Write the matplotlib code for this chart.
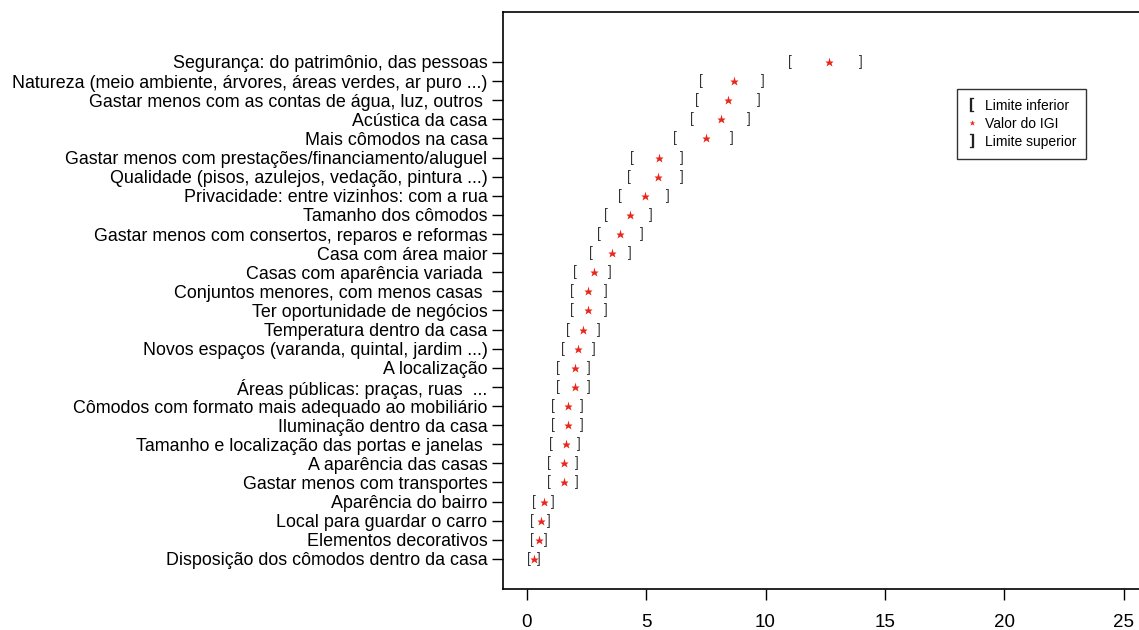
import matplotlib
matplotlib.use("Agg")
import matplotlib.pyplot as plt
from matplotlib.lines import Line2D

plt.rcParams["font.family"] = ["Liberation Sans", "DejaVu Sans"]

# ---------------------------------------------------------
# Data (top row first)
# ---------------------------------------------------------
categorias = [
    "Segurança: do patrimônio, das pessoas",
    "Natureza (meio ambiente, árvores, áreas verdes, ar puro ...)",
    "Gastar menos com as contas de água, luz, outros ",
    "Acústica da casa",
    "Mais cômodos na casa",
    "Gastar menos com prestações/financiamento/aluguel",
    "Qualidade (pisos, azulejos, vedação, pintura ...)",
    "Privacidade: entre vizinhos: com a rua",
    "Tamanho dos cômodos",
    "Gastar menos com consertos, reparos e reformas",
    "Casa com área maior",
    "Casas com aparência variada ",
    "Conjuntos menores, com menos casas ",
    "Ter oportunidade de negócios",
    "Temperatura dentro da casa",
    "Novos espaços (varanda, quintal, jardim ...)",
    "A localização",
    "Áreas públicas: praças, ruas  ...",
    "Cômodos com formato mais adequado ao mobiliário",
    "Iluminação dentro da casa",
    "Tamanho e localização das portas e janelas ",
    "A aparência das casas",
    "Gastar menos com transportes",
    "Aparência do bairro",
    "Local para guardar o carro",
    "Elementos decorativos",
    "Disposição dos cômodos dentro da casa",
]

limite_inf = [11.02, 7.31, 7.11, 6.92, 6.19, 4.41, 4.29, 3.90, 3.32, 3.01,
              2.70, 2.02, 1.90, 1.90, 1.72, 1.51, 1.32, 1.32, 1.11, 1.11,
              1.02, 0.92, 0.92, 0.31, 0.21, 0.21, 0.11]
valor_igi = [12.66, 8.67, 8.45, 8.14, 7.49, 5.56, 5.49, 4.96, 4.31, 3.93,
             3.57, 2.82, 2.59, 2.59, 2.38, 2.16, 2.02, 2.02, 1.72, 1.72,
             1.63, 1.56, 1.56, 0.74, 0.60, 0.53, 0.31]
limite_sup = [13.99, 9.90, 9.71, 9.30, 8.60, 6.51, 6.51, 5.91, 5.21, 4.81,
              4.31, 3.50, 3.32, 3.32, 3.01, 2.82, 2.62, 2.62, 2.30, 2.30,
              2.20, 2.12, 2.12, 1.09, 0.92, 0.81, 0.53]

x_ticks = [0, 5, 10, 15, 20, 25]

# ---------------------------------------------------------
# Plot
# ---------------------------------------------------------
W, H = 1139, 630
fig = plt.figure(figsize=(W / 100, H / 100), dpi=100)
ax = fig.add_axes([502.7 / W, 1 - 589.3 / H, 657 / W, (589.3 - 12.3) / H])

n = len(categorias)
ys = list(range(n, 0, -1))
bracket_color = "#333333"

for y, lo, v, hi in zip(ys, limite_inf, valor_igi, limite_sup):
    ax.text(lo, y, "[", ha="center", va="center", fontsize=10, color=bracket_color)
    ax.text(hi, y, "]", ha="center", va="center", fontsize=10, color=bracket_color)
ax.plot(valor_igi, ys, ls="none", marker="*", ms=6.5, color="#e8261c", mec="none")

ax.set_xlim(-1, 26.5)
ax.set_ylim(-0.59, n + 2.6)

ax.set_yticks(ys)
ax.set_yticklabels(categorias, fontsize=12.9)
ax.set_xticks(x_ticks)
ax.set_xticklabels([str(t) for t in x_ticks], fontsize=13.5)
ax.tick_params(axis="y", length=8, width=1, pad=3)
ax.tick_params(axis="x", length=8, width=1, pad=10)

for side in ["left", "top", "bottom"]:
    ax.spines[side].set_linewidth(1.2)
ax.spines["right"].set_visible(False)

handles = [
    Line2D([], [], ls="none", marker="$[$", ms=10, color="#222222", mew=0.2),
    Line2D([], [], ls="none", marker="*", ms=4, color="#e8261c", mec="none"),
    Line2D([], [], ls="none", marker="$]$", ms=10, color="#222222", mew=0.2),
]
leg = fig.legend(handles, ["Limite inferior", "Valor do IGI", "Limite superior"],
                 loc="upper left", bbox_to_anchor=(957 / W, 1 - 89 / H),
                 borderaxespad=0, fontsize=10, frameon=True, fancybox=False,
                 handlelength=0.8, handletextpad=0.5, labelspacing=0.3,
                 borderpad=0.7)
leg.get_frame().set_edgecolor("black")
leg.get_frame().set_linewidth(1.0)

fig.savefig("out.png", dpi=100)
